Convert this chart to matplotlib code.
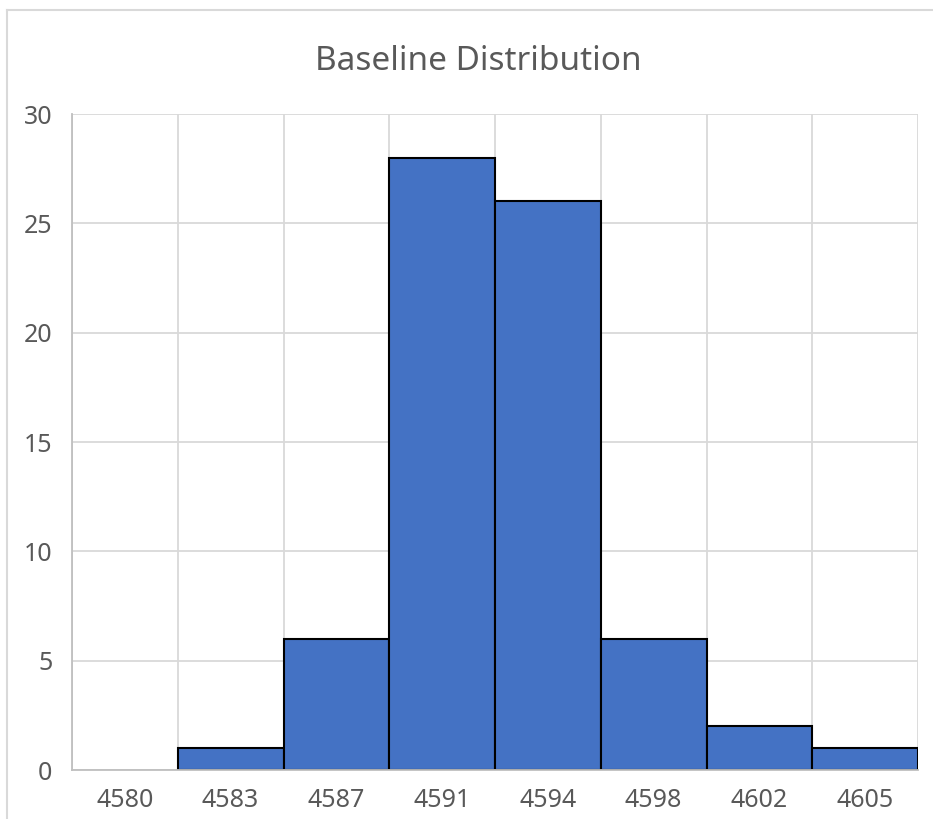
import matplotlib
matplotlib.use("Agg")
import matplotlib.pyplot as plt
from matplotlib.lines import Line2D
from matplotlib import font_manager

# Histogram bins (labels) and counts
bin_labels = ["4580", "4583", "4587", "4591", "4594", "4598", "4602", "4605"]
counts = [0, 1, 6, 28, 26, 6, 2, 1]
y_ticks = [0, 5, 10, 15, 20, 25, 30]

available = {f.name for f in font_manager.fontManager.ttflist}
narrow = "Liberation Sans Narrow" if "Liberation Sans Narrow" in available else "Noto Sans"
plt.rcParams["font.family"] = [narrow, "DejaVu Sans"]

W, H = 933, 819
fig = plt.figure(figsize=(W / 100, H / 100), dpi=100)
fig.patch.set_facecolor("white")

ax = fig.add_axes([72 / W, 1 - 770 / H, (918 - 72) / W, (770 - 114) / H])

x = list(range(len(bin_labels)))
lws = [1.5 if c > 0 else 0 for c in counts]
ax.bar(x, counts, width=1.0, color="#4472C4", edgecolor="black",
       linewidth=lws, zorder=3)

ax.set_xlim(-0.5, len(bin_labels) - 0.5)
ax.set_ylim(0, 30)
ax.set_yticks(y_ticks)
ax.set_xticks(x)
ax.set_xticklabels(bin_labels)

# vertical grid lines sit on the bin boundaries
for b in range(len(bin_labels) + 1):
    ax.axvline(b - 0.5, color="#D9D9D9", linewidth=1.3, zorder=1)
for t in y_ticks:
    ax.axhline(t, color="#D9D9D9", linewidth=1.3, zorder=1)

for s in ["top", "right"]:
    ax.spines[s].set_visible(False)
for s in ["left", "bottom"]:
    ax.spines[s].set_color("#BFBFBF")
    ax.spines[s].set_linewidth(1.3)
ax.spines["bottom"].set_zorder(4)

ax.tick_params(axis="both", length=0, colors="#595959", labelsize=18)
ax.tick_params(axis="y", pad=14)
ax.tick_params(axis="x", pad=13)

fig.text(478 / W, 1 - 70 / H, "Baseline Distribution", ha="center",
         va="baseline", fontsize=24, color="#595959")

# chart frame (left and top edges)
fig.add_artist(Line2D([6.5 / W, 6.5 / W], [0, 1 - 10 / H], color="#D9D9D9",
                      linewidth=1.5, transform=fig.transFigure))
fig.add_artist(Line2D([6.5 / W, 1], [1 - 10 / H, 1 - 10 / H], color="#D9D9D9",
                      linewidth=1.5, transform=fig.transFigure))

fig.savefig("out.png", dpi=100, facecolor="white")
